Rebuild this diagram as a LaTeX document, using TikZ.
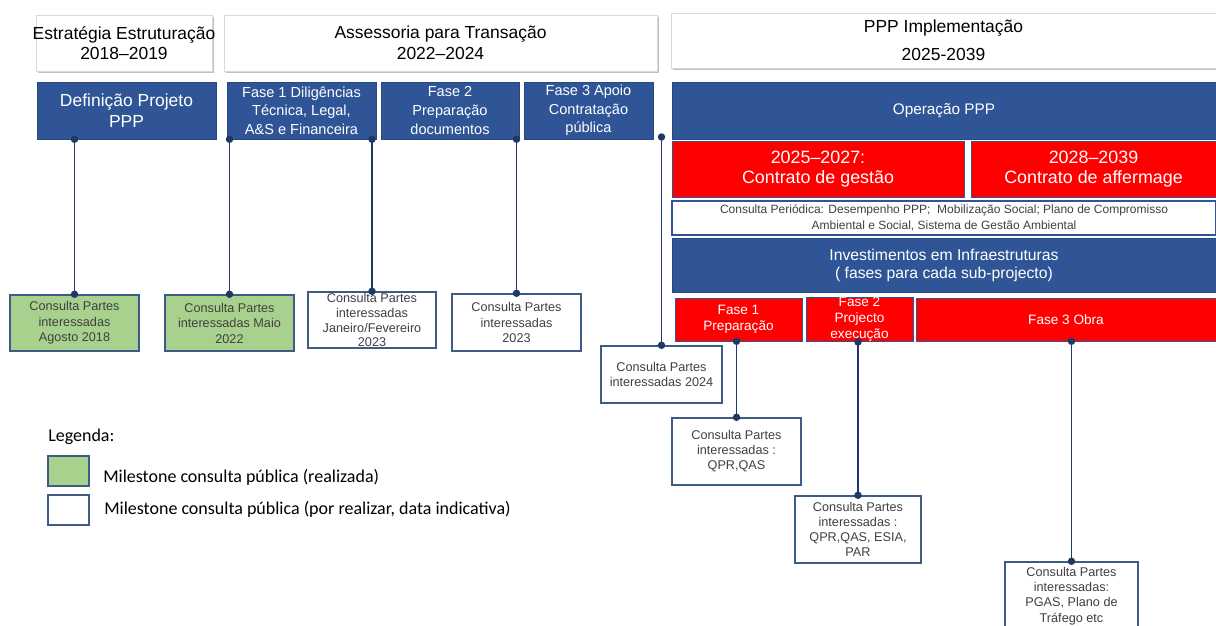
\documentclass[tikz,border=0pt]{standalone}
\usepackage{fontspec}
\setmainfont{Liberation Sans}
\newfontfamily\legendfont{Carlito}
\usepackage{tikz}
\usetikzlibrary{arrows.meta, positioning, shadows}
\usepackage{xcolor}

\definecolor{pppblue}{HTML}{2F5597}
\definecolor{pppred}{HTML}{FF0000}
\definecolor{pppgreen}{HTML}{A9D18E}
\definecolor{linknavy}{HTML}{1F3864}
\definecolor{edgeblue}{HTML}{3E5A86}
\definecolor{txtgray}{HTML}{404040}

\begin{document}
\begin{tikzpicture}[x=0.75pt, y=-0.75pt,
    span/.style args={#1/#2/#3/#4}{at={(0.5*#1+0.5*#3, 0.5*#2+0.5*#4)},
      minimum width={(#3-#1)*0.75pt}, minimum height={(#4-#2)*0.75pt}},
    hdr/.style={draw=gray!30, fill=white, inner sep=0pt, align=center,
      drop shadow={shadow xshift=1.2pt, shadow yshift=-1.2pt, opacity=0.25, fill=black},
      font=\fontsize{13.1}{15.5}\selectfont},
    bluecell/.style={draw=pppblue!85!black, fill=pppblue, text=white, inner sep=0pt, align=center},
    redcell/.style={draw=pppblue, fill=pppred, text=white, inner sep=0pt, align=center},
    msdone/.style={draw=edgeblue, line width=1.1pt, fill=pppgreen, text=txtgray, inner sep=0pt,
      align=center, font=\fontsize{9.5}{11.6}\selectfont},
    msplan/.style={msdone, fill=white},
    link/.style={draw=linknavy, line width=1.2pt, {Circle[length=5.5pt]}-{Circle[length=5.5pt]},
      shorten <=-2.75pt, shorten >=-2.75pt},
    legtext/.style={inner sep=0pt, anchor=west, font=\legendfont\fontsize{13.5}{15}\selectfont}]
  \useasboundingbox (0, 0) rectangle (1216, 625);

  % periods
  \node[hdr, span=36/15/212/71] (hdrstrat) {\makebox[0pt]{Estratégia Estruturação}\\2018--2019};
  \node[hdr, span=224/15/657/71] (hdrtrans) {Assessoria para Transação\\2022--2024};
  \node[hdr, span=671/13/1216/68, font=\fontsize{13.1}{21}\selectfont] (hdrimpl) {PPP Implementação\\2025-2039};

  % phases
  \node[bluecell, span=37/82/216/139, font=\fontsize{13.1}{15.75}\selectfont] (defn) {Definição Projeto\\PPP};
  \node[bluecell, span=227/82/376/139, font=\fontsize{10.9}{13.9}\selectfont] (fase1) {Fase 1 Diligências\\Técnica, Legal,\\A\&S e Financeira};
  \node[bluecell, span=381/82/519/139, font=\fontsize{10.9}{13.9}\selectfont] (fase2) {Fase 2\\Preparação\\documentos};
  \node[bluecell, span=524/82/653/139, font=\fontsize{10.9}{13.9}\selectfont] (fase3) {Fase 3 Apoio\\Contratação\\pública};
  \node[bluecell, span=672/82/1216/139, font=\fontsize{11.5}{14}\selectfont] (oper) {Operação PPP};

  \node[redcell, span=672/141/964/197, font=\fontsize{13.4}{14.6}\selectfont] (gestao) {2025--2027:\\Contrato de gestão};
  \node[redcell, span=971/141/1216/197, font=\fontsize{13.4}{14.6}\selectfont] (afferm) {2028--2039\\Contrato de affermage};
  \node[draw=pppblue, line width=0.9pt, fill=white, text=txtgray, inner sep=0pt, align=center,
    span=672/201/1216/235, font=\fontsize{9}{11.6}\selectfont] (period) {Consulta Periódica: Desempenho PPP;\ \ Mobilização Social; Plano de Compromisso\\Ambiental e Social, Sistema de Gestão Ambiental};
  \node[bluecell, span=672/238/1216/292, font=\fontsize{11.8}{13.5}\selectfont] (invest) {Investimentos em Infraestruturas\\( fases para cada sub-projecto)};

  \node[redcell, span=675/298/802/341, font=\fontsize{10.2}{12}\selectfont] (prep) {Fase 1\\Preparação};
  \node[redcell, span=806/298/913/341, font=\fontsize{10.2}{12}\selectfont] (exec) {Fase 2\\Projecto\\execução};
  \node[redcell, span=916/298/1216/341, font=\fontsize{10.2}{12}\selectfont] (obra) {Fase 3 Obra};

  % milestones
  \node[msdone, span=10/295/139/351] (ms1) {Consulta Partes\\interessadas\\Agosto 2018};
  \node[msdone, span=165/295/294/351] (ms2) {Consulta Partes\\interessadas Maio\\2022};
  \node[msplan, span=308/292/436/348, font=\fontsize{9.5}{11.2}\selectfont] (ms3) {Consulta Partes\\interessadas\\Janeiro/Fevereiro\\2023};
  \node[msplan, span=452/294/581/351] (ms4) {Consulta Partes\\interessadas\\2023};
  \node[msplan, span=601/346/722/403] (ms5) {Consulta Partes\\interessadas 2024};
  \node[msplan, span=672/418/801/485, font=\fontsize{9.5}{11.3}\selectfont] (ms6) {Consulta Partes\\interessadas :\\QPR,QAS};
  \node[msplan, span=795/496/921/563, font=\fontsize{9.5}{11.3}\selectfont] (ms7) {Consulta Partes\\interessadas :\\QPR,QAS, ESIA,\\PAR};
  \node[msplan, span=1005/562/1138/630, font=\fontsize{9.5}{11.4}\selectfont] (ms8) {Consulta Partes\\interessadas:\\PGAS, Plano de\\Tráfego etc};

  \coordinate (gap) at (661, 137);

  \draw[link] (ms1.north |- defn.south) -- (ms1.north);
  \draw[link] (ms2.north |- fase1.south) -- (ms2.north);
  \draw[link] (ms3.north |- fase1.south) -- (ms3.north);
  \draw[link] (ms4.north |- fase2.south) -- (ms4.north);
  \draw[link] (gap -| ms5.north) -- (ms5.north);
  \draw[link] (ms6.north |- prep.south) -- (ms6.north);
  \draw[link] (ms7.north |- exec.south) -- (ms7.north);
  \draw[link] (ms8.north |- obra.south) -- (ms8.north);

  % legend
  \node[legtext] (legtitle) at (48, 437) {Legenda:};
  \node[msdone, line width=0.9pt, span=48/456/89/486] (keydone) {};
  \node[msplan, line width=0.9pt, span=48/495/89/525] (keyplan) {};
  \node[legtext] (keydonetxt) at (103, 477) {Milestone consulta pública (realizada)};
  \node[legtext] (keyplantxt) at (104, 509) {Milestone consulta pública (por realizar, data indicativa)};
\end{tikzpicture}
\end{document}
